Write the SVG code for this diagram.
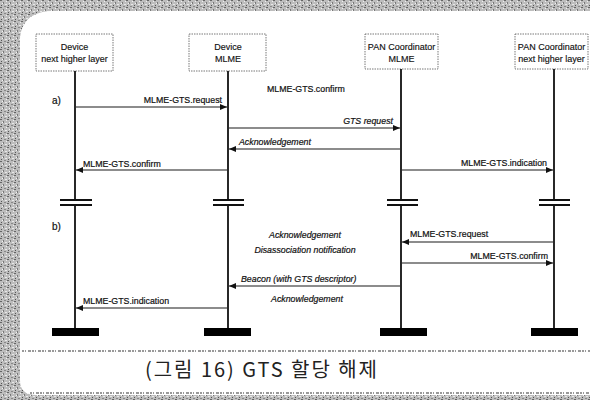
<svg xmlns="http://www.w3.org/2000/svg" width="590" height="400" viewBox="0 0 590 400">
<style>
.t{font-family:"Liberation Sans",Arial,sans-serif;font-size:8.8px;fill:#111;stroke:#111;stroke-width:0.2}
.i{font-style:italic}
.h{font-family:"Liberation Sans",Arial,sans-serif;font-size:9px;fill:#111;stroke:#111;stroke-width:0.15;text-anchor:middle}
.box{fill:#fff;stroke:#555;stroke-width:0.8;stroke-dasharray:1.5 1}
.life{stroke:#111;stroke-width:1.8;fill:none}
.brk{stroke:#111;stroke-width:2}
.msg{stroke:#1a1a1a;stroke-width:1.1;fill:none;marker-end:url(#ah)}
.bar{fill:#000}
.dot{stroke:#999;stroke-width:2;stroke-dasharray:2 1 1 2 3 1;fill:none}
</style>
<defs>
<marker id="ah" markerWidth="7" markerHeight="6" refX="7" refY="3" orient="auto" markerUnits="userSpaceOnUse">
<path d="M0,0 L7,3 L0,6 Z" fill="#111"/>
</marker>
<pattern id="noise" width="7" height="7" patternUnits="userSpaceOnUse">
<rect width="7" height="7" fill="#bdbdbd"/>
<rect x="0" y="0" width="2" height="1" fill="#666"/>
<rect x="3" y="2" width="1" height="2" fill="#777"/>
<rect x="5" y="4" width="2" height="1" fill="#e8e8e8"/>
<rect x="1" y="5" width="1" height="1" fill="#555"/>
<rect x="4" y="6" width="2" height="1" fill="#888"/>
<rect x="6" y="1" width="1" height="1" fill="#eee"/>
<rect x="2" y="3" width="1" height="1" fill="#f4f4f4"/>
</pattern>
</defs>
<rect width="590" height="400" fill="#fff"/>
<path d="M0,0 H590 V11 H50 Q22,13 20,38 V380 Q20,395 36,395 H590 V400 H0 Z" fill="url(#noise)"/>
<line class="dot" x1="22" y1="351" x2="590" y2="351"/>
<line class="dot" x1="30" y1="393" x2="590" y2="393"/>

<g id="node-dev-nhl">
<rect class="box" x="36" y="34" width="77" height="37"/>
<text class="h" x="74.5" y="50">Device</text>
<text class="h" x="74.5" y="62">next higher layer</text>
<line class="life" x1="75" y1="71" x2="75" y2="200"/>
<line class="life" x1="75" y1="205" x2="75" y2="329"/>
<line class="brk" x1="60" y1="200" x2="92" y2="200"/>
<line class="brk" x1="60" y1="205" x2="92" y2="205"/>
<rect class="bar" x="52" y="328" width="47" height="8"/>
</g>
<g id="node-dev-mlme">
<rect class="box" x="189" y="34" width="77" height="37"/>
<text class="h" x="228" y="50">Device</text>
<text class="h" x="228" y="62">MLME</text>
<line class="life" x1="228" y1="71" x2="228" y2="200"/>
<line class="life" x1="228" y1="205" x2="228" y2="329"/>
<line class="brk" x1="213" y1="200" x2="244" y2="200"/>
<line class="brk" x1="213" y1="205" x2="244" y2="205"/>
<rect class="bar" x="204" y="328" width="47" height="8"/>
</g>
<g id="node-pan-mlme">
<rect class="box" x="365" y="34" width="73" height="35"/>
<text class="h" x="401.5" y="50">PAN Coordinator</text>
<text class="h" x="401.5" y="62">MLME</text>
<line class="life" x1="401" y1="69" x2="401" y2="200"/>
<line class="life" x1="401" y1="205" x2="401" y2="329"/>
<line class="brk" x1="387" y1="200" x2="418" y2="200"/>
<line class="brk" x1="387" y1="205" x2="418" y2="205"/>
<rect class="bar" x="380" y="328" width="47" height="8"/>
</g>
<g id="node-pan-nhl">
<rect class="box" x="515" y="34" width="73" height="35"/>
<text class="h" x="551.5" y="50">PAN Coordinator</text>
<text class="h" x="551.5" y="62">next  higher layer</text>
<line class="life" x1="554" y1="69" x2="554" y2="200"/>
<line class="life" x1="554" y1="205" x2="554" y2="329"/>
<line class="brk" x1="539" y1="200" x2="570" y2="200"/>
<line class="brk" x1="539" y1="205" x2="570" y2="205"/>
<rect class="bar" x="531" y="328" width="47" height="8"/>
</g>

<g id="connectors">
<line class="msg" x1="76" y1="107" x2="227" y2="107"/>
<line class="msg" x1="229" y1="128" x2="400" y2="128"/>
<line class="msg" x1="400" y1="149" x2="229" y2="149"/>
<line class="msg" x1="227" y1="170" x2="76" y2="170"/>
<line class="msg" x1="402" y1="170" x2="553" y2="170"/>
<line class="msg" x1="553" y1="242" x2="402" y2="242"/>
<line class="msg" x1="402" y1="263" x2="553" y2="263"/>
<line class="msg" x1="400" y1="286" x2="229" y2="286"/>
<line class="msg" x1="227" y1="308" x2="76" y2="308"/>
</g>

<g id="labels">
<text class="t" x="52" y="104" style="font-size:10px">a)</text>
<text class="t" x="52" y="230" style="font-size:10px">b)</text>
<text class="t" x="222" y="103" text-anchor="end">MLME-GTS.request</text>
<text class="t" x="267" y="92">MLME-GTS.confirm</text>
<text class="t i" x="393" y="124" text-anchor="end">GTS request</text>
<text class="t i" x="239" y="145">Acknowledgement</text>
<text class="t" x="83" y="167">MLME-GTS.confirm</text>
<text class="t" x="547" y="166" text-anchor="end">MLME-GTS.indication</text>
<text class="t i" x="305" y="238" text-anchor="middle">Acknowledgement</text>
<text class="t i" x="305" y="253" text-anchor="middle">Disassociation notification</text>
<text class="t" x="410" y="237">MLME-GTS.request</text>
<text class="t" x="548" y="259" text-anchor="end">MLME-GTS.confirm</text>
<text class="t i" x="241" y="282">Beacon (with GTS descriptor)</text>
<text class="t i" x="307" y="302" text-anchor="middle">Acknowledgement</text>
<text class="t" x="83" y="304">MLME-GTS.indication</text>
</g>

<text x="145" y="377" textLength="232" lengthAdjust="spacing" style="font-family:'Noto Sans CJK KR','Noto Sans',sans-serif;font-size:20px;fill:#222">(그림 16) GTS 할당 해제</text>
</svg>
